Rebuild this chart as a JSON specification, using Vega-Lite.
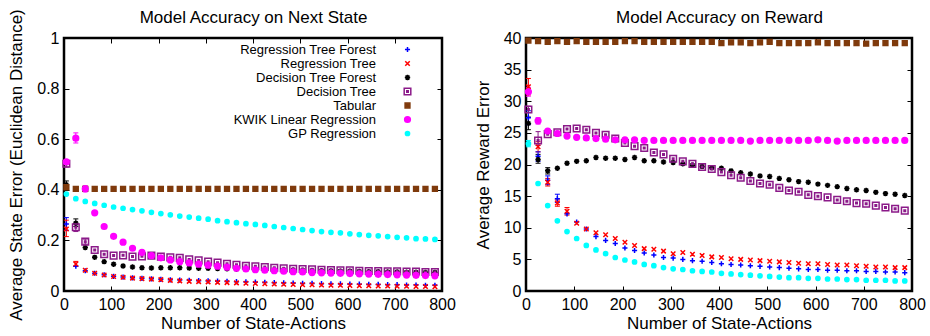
{
"$schema":"https://vega.github.io/schema/vega-lite/v6.json",
"padding":{"left":6,"top":7,"right":5,"bottom":0},
"config":{"font":"Liberation Sans","view":{"stroke":"black","strokeWidth":2.5},
"axis":{"domain":false,"grid":false,"ticks":true,"tickSize":-5,"tickColor":"black","tickWidth":1,"labelPadding":10,"labelFontSize":16,"labelColor":"black","labelFlush":false,"titleFontSize":17,"titleFontWeight":"normal","titleColor":"black"}},
"datasets":{
"state":[
{"s":"Regression Tree Forest","x":5,"y":0.265,"lo":0.24,"hi":0.29},{"s":"Regression Tree Forest","x":25,"y":0.098},{"s":"Regression Tree Forest","x":45,"y":0.080},{"s":"Regression Tree Forest","x":65,"y":0.070},{"s":"Regression Tree Forest","x":85,"y":0.064},{"s":"Regression Tree Forest","x":105,"y":0.058},{"s":"Regression Tree Forest","x":125,"y":0.055},{"s":"Regression Tree Forest","x":145,"y":0.052},{"s":"Regression Tree Forest","x":165,"y":0.050},{"s":"Regression Tree Forest","x":185,"y":0.048},{"s":"Regression Tree Forest","x":205,"y":0.046},{"s":"Regression Tree Forest","x":225,"y":0.044},{"s":"Regression Tree Forest","x":245,"y":0.043},{"s":"Regression Tree Forest","x":265,"y":0.042},{"s":"Regression Tree Forest","x":285,"y":0.041},{"s":"Regression Tree Forest","x":305,"y":0.040},{"s":"Regression Tree Forest","x":325,"y":0.039},{"s":"Regression Tree Forest","x":345,"y":0.038},{"s":"Regression Tree Forest","x":365,"y":0.037},{"s":"Regression Tree Forest","x":385,"y":0.036},{"s":"Regression Tree Forest","x":405,"y":0.035},{"s":"Regression Tree Forest","x":425,"y":0.034},{"s":"Regression Tree Forest","x":445,"y":0.033},{"s":"Regression Tree Forest","x":465,"y":0.032},{"s":"Regression Tree Forest","x":485,"y":0.031},{"s":"Regression Tree Forest","x":505,"y":0.030},{"s":"Regression Tree Forest","x":525,"y":0.030},{"s":"Regression Tree Forest","x":545,"y":0.029},{"s":"Regression Tree Forest","x":565,"y":0.028},{"s":"Regression Tree Forest","x":585,"y":0.028},{"s":"Regression Tree Forest","x":605,"y":0.027},{"s":"Regression Tree Forest","x":625,"y":0.027},{"s":"Regression Tree Forest","x":645,"y":0.026},{"s":"Regression Tree Forest","x":665,"y":0.026},{"s":"Regression Tree Forest","x":685,"y":0.025},{"s":"Regression Tree Forest","x":705,"y":0.025},{"s":"Regression Tree Forest","x":725,"y":0.024},{"s":"Regression Tree Forest","x":745,"y":0.024},{"s":"Regression Tree Forest","x":765,"y":0.023},{"s":"Regression Tree Forest","x":785,"y":0.023},
{"s":"Regression Tree","x":5,"y":0.245,"lo":0.215,"hi":0.28},{"s":"Regression Tree","x":25,"y":0.107,"lo":0.097,"hi":0.117},{"s":"Regression Tree","x":45,"y":0.082},{"s":"Regression Tree","x":65,"y":0.070},{"s":"Regression Tree","x":85,"y":0.063},{"s":"Regression Tree","x":105,"y":0.057},{"s":"Regression Tree","x":125,"y":0.054},{"s":"Regression Tree","x":145,"y":0.051},{"s":"Regression Tree","x":165,"y":0.049},{"s":"Regression Tree","x":185,"y":0.047},{"s":"Regression Tree","x":205,"y":0.045},{"s":"Regression Tree","x":225,"y":0.042},{"s":"Regression Tree","x":245,"y":0.040},{"s":"Regression Tree","x":265,"y":0.038},{"s":"Regression Tree","x":285,"y":0.037},{"s":"Regression Tree","x":305,"y":0.036},{"s":"Regression Tree","x":325,"y":0.034},{"s":"Regression Tree","x":345,"y":0.033},{"s":"Regression Tree","x":365,"y":0.032},{"s":"Regression Tree","x":385,"y":0.031},{"s":"Regression Tree","x":405,"y":0.030},{"s":"Regression Tree","x":425,"y":0.029},{"s":"Regression Tree","x":445,"y":0.028},{"s":"Regression Tree","x":465,"y":0.027},{"s":"Regression Tree","x":485,"y":0.026},{"s":"Regression Tree","x":505,"y":0.025},{"s":"Regression Tree","x":525,"y":0.025},{"s":"Regression Tree","x":545,"y":0.024},{"s":"Regression Tree","x":565,"y":0.023},{"s":"Regression Tree","x":585,"y":0.023},{"s":"Regression Tree","x":605,"y":0.022},{"s":"Regression Tree","x":625,"y":0.021},{"s":"Regression Tree","x":645,"y":0.021},{"s":"Regression Tree","x":665,"y":0.020},{"s":"Regression Tree","x":685,"y":0.020},{"s":"Regression Tree","x":705,"y":0.019},{"s":"Regression Tree","x":725,"y":0.019},{"s":"Regression Tree","x":745,"y":0.018},{"s":"Regression Tree","x":765,"y":0.018},{"s":"Regression Tree","x":785,"y":0.017},
{"s":"Decision Tree Forest","x":5,"y":0.42,"lo":0.405,"hi":0.435},{"s":"Decision Tree Forest","x":25,"y":0.268,"lo":0.255,"hi":0.285},{"s":"Decision Tree Forest","x":45,"y":0.172},{"s":"Decision Tree Forest","x":65,"y":0.133},{"s":"Decision Tree Forest","x":85,"y":0.116},{"s":"Decision Tree Forest","x":105,"y":0.106},{"s":"Decision Tree Forest","x":125,"y":0.099},{"s":"Decision Tree Forest","x":145,"y":0.095},{"s":"Decision Tree Forest","x":165,"y":0.092},{"s":"Decision Tree Forest","x":185,"y":0.091},{"s":"Decision Tree Forest","x":205,"y":0.092},{"s":"Decision Tree Forest","x":225,"y":0.092},{"s":"Decision Tree Forest","x":245,"y":0.092},{"s":"Decision Tree Forest","x":265,"y":0.091},{"s":"Decision Tree Forest","x":285,"y":0.090},{"s":"Decision Tree Forest","x":305,"y":0.090},{"s":"Decision Tree Forest","x":325,"y":0.089},{"s":"Decision Tree Forest","x":345,"y":0.088},{"s":"Decision Tree Forest","x":365,"y":0.087},{"s":"Decision Tree Forest","x":385,"y":0.086},{"s":"Decision Tree Forest","x":405,"y":0.085},{"s":"Decision Tree Forest","x":425,"y":0.084},{"s":"Decision Tree Forest","x":445,"y":0.083},{"s":"Decision Tree Forest","x":465,"y":0.083},{"s":"Decision Tree Forest","x":485,"y":0.082},{"s":"Decision Tree Forest","x":505,"y":0.081},{"s":"Decision Tree Forest","x":525,"y":0.080},{"s":"Decision Tree Forest","x":545,"y":0.080},{"s":"Decision Tree Forest","x":565,"y":0.079},{"s":"Decision Tree Forest","x":585,"y":0.078},{"s":"Decision Tree Forest","x":605,"y":0.078},{"s":"Decision Tree Forest","x":625,"y":0.077},{"s":"Decision Tree Forest","x":645,"y":0.076},{"s":"Decision Tree Forest","x":665,"y":0.076},{"s":"Decision Tree Forest","x":685,"y":0.075},{"s":"Decision Tree Forest","x":705,"y":0.075},{"s":"Decision Tree Forest","x":725,"y":0.074},{"s":"Decision Tree Forest","x":745,"y":0.074},{"s":"Decision Tree Forest","x":765,"y":0.073},{"s":"Decision Tree Forest","x":785,"y":0.073},
{"s":"Decision Tree","x":5,"y":0.503,"lo":0.49,"hi":0.515},{"s":"Decision Tree","x":25,"y":0.252,"lo":0.235,"hi":0.268},{"s":"Decision Tree","x":45,"y":0.195,"lo":0.185,"hi":0.205},{"s":"Decision Tree","x":65,"y":0.162},{"s":"Decision Tree","x":85,"y":0.145},{"s":"Decision Tree","x":105,"y":0.140},{"s":"Decision Tree","x":125,"y":0.141},{"s":"Decision Tree","x":145,"y":0.136},{"s":"Decision Tree","x":165,"y":0.137},{"s":"Decision Tree","x":185,"y":0.140},{"s":"Decision Tree","x":205,"y":0.136},{"s":"Decision Tree","x":225,"y":0.133},{"s":"Decision Tree","x":245,"y":0.131},{"s":"Decision Tree","x":265,"y":0.125},{"s":"Decision Tree","x":285,"y":0.121},{"s":"Decision Tree","x":305,"y":0.116},{"s":"Decision Tree","x":325,"y":0.112},{"s":"Decision Tree","x":345,"y":0.108},{"s":"Decision Tree","x":365,"y":0.104},{"s":"Decision Tree","x":385,"y":0.100},{"s":"Decision Tree","x":405,"y":0.098},{"s":"Decision Tree","x":425,"y":0.095},{"s":"Decision Tree","x":445,"y":0.092},{"s":"Decision Tree","x":465,"y":0.090},{"s":"Decision Tree","x":485,"y":0.088},{"s":"Decision Tree","x":505,"y":0.087},{"s":"Decision Tree","x":525,"y":0.086},{"s":"Decision Tree","x":545,"y":0.084},{"s":"Decision Tree","x":565,"y":0.083},{"s":"Decision Tree","x":585,"y":0.082},{"s":"Decision Tree","x":605,"y":0.082},{"s":"Decision Tree","x":625,"y":0.080},{"s":"Decision Tree","x":645,"y":0.079},{"s":"Decision Tree","x":665,"y":0.079},{"s":"Decision Tree","x":685,"y":0.078},{"s":"Decision Tree","x":705,"y":0.078},{"s":"Decision Tree","x":725,"y":0.077},{"s":"Decision Tree","x":745,"y":0.077},{"s":"Decision Tree","x":765,"y":0.075},{"s":"Decision Tree","x":785,"y":0.075},
{"s":"Tabular","x":5,"y":0.41},{"s":"Tabular","x":25,"y":0.404},{"s":"Tabular","x":45,"y":0.404},{"s":"Tabular","x":65,"y":0.404},{"s":"Tabular","x":85,"y":0.404},{"s":"Tabular","x":105,"y":0.404},{"s":"Tabular","x":125,"y":0.404},{"s":"Tabular","x":145,"y":0.404},{"s":"Tabular","x":165,"y":0.404},{"s":"Tabular","x":185,"y":0.404},{"s":"Tabular","x":205,"y":0.404},{"s":"Tabular","x":225,"y":0.404},{"s":"Tabular","x":245,"y":0.404},{"s":"Tabular","x":265,"y":0.404},{"s":"Tabular","x":285,"y":0.404},{"s":"Tabular","x":305,"y":0.404},{"s":"Tabular","x":325,"y":0.404},{"s":"Tabular","x":345,"y":0.404},{"s":"Tabular","x":365,"y":0.404},{"s":"Tabular","x":385,"y":0.404},{"s":"Tabular","x":405,"y":0.404},{"s":"Tabular","x":425,"y":0.404},{"s":"Tabular","x":445,"y":0.404},{"s":"Tabular","x":465,"y":0.404},{"s":"Tabular","x":485,"y":0.404},{"s":"Tabular","x":505,"y":0.404},{"s":"Tabular","x":525,"y":0.404},{"s":"Tabular","x":545,"y":0.404},{"s":"Tabular","x":565,"y":0.404},{"s":"Tabular","x":585,"y":0.404},{"s":"Tabular","x":605,"y":0.404},{"s":"Tabular","x":625,"y":0.404},{"s":"Tabular","x":645,"y":0.404},{"s":"Tabular","x":665,"y":0.404},{"s":"Tabular","x":685,"y":0.404},{"s":"Tabular","x":705,"y":0.404},{"s":"Tabular","x":725,"y":0.404},{"s":"Tabular","x":745,"y":0.404},{"s":"Tabular","x":765,"y":0.404},{"s":"Tabular","x":785,"y":0.404},
{"s":"KWIK Linear Regression","x":5,"y":0.51},{"s":"KWIK Linear Regression","x":25,"y":0.604,"lo":0.585,"hi":0.625},{"s":"KWIK Linear Regression","x":45,"y":0.404,"lo":0.392,"hi":0.416},{"s":"KWIK Linear Regression","x":65,"y":0.309},{"s":"KWIK Linear Regression","x":85,"y":0.255},{"s":"KWIK Linear Regression","x":105,"y":0.216},{"s":"KWIK Linear Regression","x":125,"y":0.193},{"s":"KWIK Linear Regression","x":145,"y":0.169},{"s":"KWIK Linear Regression","x":165,"y":0.153},{"s":"KWIK Linear Regression","x":185,"y":0.140},{"s":"KWIK Linear Regression","x":205,"y":0.131},{"s":"KWIK Linear Regression","x":225,"y":0.123},{"s":"KWIK Linear Regression","x":245,"y":0.116},{"s":"KWIK Linear Regression","x":265,"y":0.111},{"s":"KWIK Linear Regression","x":285,"y":0.106},{"s":"KWIK Linear Regression","x":305,"y":0.102},{"s":"KWIK Linear Regression","x":325,"y":0.098},{"s":"KWIK Linear Regression","x":345,"y":0.094},{"s":"KWIK Linear Regression","x":365,"y":0.090},{"s":"KWIK Linear Regression","x":385,"y":0.087},{"s":"KWIK Linear Regression","x":405,"y":0.084},{"s":"KWIK Linear Regression","x":425,"y":0.082},{"s":"KWIK Linear Regression","x":445,"y":0.080},{"s":"KWIK Linear Regression","x":465,"y":0.078},{"s":"KWIK Linear Regression","x":485,"y":0.076},{"s":"KWIK Linear Regression","x":505,"y":0.075},{"s":"KWIK Linear Regression","x":525,"y":0.073},{"s":"KWIK Linear Regression","x":545,"y":0.072},{"s":"KWIK Linear Regression","x":565,"y":0.071},{"s":"KWIK Linear Regression","x":585,"y":0.070},{"s":"KWIK Linear Regression","x":605,"y":0.069},{"s":"KWIK Linear Regression","x":625,"y":0.068},{"s":"KWIK Linear Regression","x":645,"y":0.067},{"s":"KWIK Linear Regression","x":665,"y":0.066},{"s":"KWIK Linear Regression","x":685,"y":0.065},{"s":"KWIK Linear Regression","x":705,"y":0.064},{"s":"KWIK Linear Regression","x":725,"y":0.063},{"s":"KWIK Linear Regression","x":745,"y":0.062},{"s":"KWIK Linear Regression","x":765,"y":0.061},{"s":"KWIK Linear Regression","x":785,"y":0.060},
{"s":"GP Regression","x":5,"y":0.383},{"s":"GP Regression","x":25,"y":0.365},{"s":"GP Regression","x":45,"y":0.354},{"s":"GP Regression","x":65,"y":0.346},{"s":"GP Regression","x":85,"y":0.339},{"s":"GP Regression","x":105,"y":0.332},{"s":"GP Regression","x":125,"y":0.327},{"s":"GP Regression","x":145,"y":0.322},{"s":"GP Regression","x":165,"y":0.317},{"s":"GP Regression","x":185,"y":0.311},{"s":"GP Regression","x":205,"y":0.306},{"s":"GP Regression","x":225,"y":0.301},{"s":"GP Regression","x":245,"y":0.296},{"s":"GP Regression","x":265,"y":0.292},{"s":"GP Regression","x":285,"y":0.288},{"s":"GP Regression","x":305,"y":0.284},{"s":"GP Regression","x":325,"y":0.278},{"s":"GP Regression","x":345,"y":0.274},{"s":"GP Regression","x":365,"y":0.270},{"s":"GP Regression","x":385,"y":0.266},{"s":"GP Regression","x":405,"y":0.263},{"s":"GP Regression","x":425,"y":0.259},{"s":"GP Regression","x":445,"y":0.255},{"s":"GP Regression","x":465,"y":0.251},{"s":"GP Regression","x":485,"y":0.247},{"s":"GP Regression","x":505,"y":0.243},{"s":"GP Regression","x":525,"y":0.239},{"s":"GP Regression","x":545,"y":0.235},{"s":"GP Regression","x":565,"y":0.232},{"s":"GP Regression","x":585,"y":0.230},{"s":"GP Regression","x":605,"y":0.226},{"s":"GP Regression","x":625,"y":0.223},{"s":"GP Regression","x":645,"y":0.220},{"s":"GP Regression","x":665,"y":0.218},{"s":"GP Regression","x":685,"y":0.215},{"s":"GP Regression","x":705,"y":0.212},{"s":"GP Regression","x":725,"y":0.210},{"s":"GP Regression","x":745,"y":0.207},{"s":"GP Regression","x":765,"y":0.206},{"s":"GP Regression","x":785,"y":0.204}
],
"reward":[
{"s":"Regression Tree Forest","x":5,"y":27.4,"lo":26.3,"hi":28.5},{"s":"Regression Tree Forest","x":25,"y":21.3,"lo":20.5,"hi":22.0},{"s":"Regression Tree Forest","x":45,"y":17.5,"lo":16.8,"hi":18.2},{"s":"Regression Tree Forest","x":65,"y":14.6,"lo":14.0,"hi":15.3},{"s":"Regression Tree Forest","x":85,"y":12.2},{"s":"Regression Tree Forest","x":105,"y":10.9},{"s":"Regression Tree Forest","x":125,"y":9.8},{"s":"Regression Tree Forest","x":145,"y":8.6},{"s":"Regression Tree Forest","x":165,"y":8.0},{"s":"Regression Tree Forest","x":185,"y":7.5},{"s":"Regression Tree Forest","x":205,"y":6.8},{"s":"Regression Tree Forest","x":225,"y":6.4},{"s":"Regression Tree Forest","x":245,"y":6.0},{"s":"Regression Tree Forest","x":265,"y":5.7},{"s":"Regression Tree Forest","x":285,"y":5.3},{"s":"Regression Tree Forest","x":305,"y":5.2},{"s":"Regression Tree Forest","x":325,"y":5.0},{"s":"Regression Tree Forest","x":345,"y":4.8},{"s":"Regression Tree Forest","x":365,"y":4.7},{"s":"Regression Tree Forest","x":385,"y":4.5},{"s":"Regression Tree Forest","x":405,"y":4.3},{"s":"Regression Tree Forest","x":425,"y":4.2},{"s":"Regression Tree Forest","x":445,"y":4.1},{"s":"Regression Tree Forest","x":465,"y":4.0},{"s":"Regression Tree Forest","x":485,"y":3.9},{"s":"Regression Tree Forest","x":505,"y":3.8},{"s":"Regression Tree Forest","x":525,"y":3.7},{"s":"Regression Tree Forest","x":545,"y":3.6},{"s":"Regression Tree Forest","x":565,"y":3.5},{"s":"Regression Tree Forest","x":585,"y":3.4},{"s":"Regression Tree Forest","x":605,"y":3.4},{"s":"Regression Tree Forest","x":625,"y":3.3},{"s":"Regression Tree Forest","x":645,"y":3.3},{"s":"Regression Tree Forest","x":665,"y":3.2},{"s":"Regression Tree Forest","x":685,"y":3.2},{"s":"Regression Tree Forest","x":705,"y":3.1},{"s":"Regression Tree Forest","x":725,"y":3.1},{"s":"Regression Tree Forest","x":745,"y":3.0},{"s":"Regression Tree Forest","x":765,"y":3.0},{"s":"Regression Tree Forest","x":785,"y":2.9},
{"s":"Regression Tree","x":5,"y":32.3,"lo":31.0,"hi":33.6},{"s":"Regression Tree","x":25,"y":22.8,"lo":22.0,"hi":23.6},{"s":"Regression Tree","x":45,"y":17.2,"lo":16.6,"hi":17.8},{"s":"Regression Tree","x":65,"y":13.9,"lo":13.4,"hi":14.4},{"s":"Regression Tree","x":85,"y":12.6,"lo":12.0,"hi":13.2},{"s":"Regression Tree","x":105,"y":10.7},{"s":"Regression Tree","x":125,"y":9.8},{"s":"Regression Tree","x":145,"y":9.2},{"s":"Regression Tree","x":165,"y":8.9},{"s":"Regression Tree","x":185,"y":8.3},{"s":"Regression Tree","x":205,"y":7.7},{"s":"Regression Tree","x":225,"y":7.2},{"s":"Regression Tree","x":245,"y":6.7},{"s":"Regression Tree","x":265,"y":6.6},{"s":"Regression Tree","x":285,"y":6.3},{"s":"Regression Tree","x":305,"y":5.9},{"s":"Regression Tree","x":325,"y":6.1},{"s":"Regression Tree","x":345,"y":5.8},{"s":"Regression Tree","x":365,"y":5.6},{"s":"Regression Tree","x":385,"y":5.4},{"s":"Regression Tree","x":405,"y":5.3},{"s":"Regression Tree","x":425,"y":5.1},{"s":"Regression Tree","x":445,"y":5.0},{"s":"Regression Tree","x":465,"y":4.9},{"s":"Regression Tree","x":485,"y":4.8},{"s":"Regression Tree","x":505,"y":4.7},{"s":"Regression Tree","x":525,"y":4.6},{"s":"Regression Tree","x":545,"y":4.5},{"s":"Regression Tree","x":565,"y":4.4},{"s":"Regression Tree","x":585,"y":4.3},{"s":"Regression Tree","x":605,"y":4.3},{"s":"Regression Tree","x":625,"y":4.2},{"s":"Regression Tree","x":645,"y":4.1},{"s":"Regression Tree","x":665,"y":4.1},{"s":"Regression Tree","x":685,"y":4.0},{"s":"Regression Tree","x":705,"y":3.9},{"s":"Regression Tree","x":725,"y":3.8},{"s":"Regression Tree","x":745,"y":3.8},{"s":"Regression Tree","x":765,"y":3.7},{"s":"Regression Tree","x":785,"y":3.7},
{"s":"Decision Tree Forest","x":5,"y":26.5,"lo":25.5,"hi":27.5},{"s":"Decision Tree Forest","x":25,"y":20.8,"lo":20.2,"hi":21.6},{"s":"Decision Tree Forest","x":45,"y":19.0,"lo":18.5,"hi":19.5},{"s":"Decision Tree Forest","x":65,"y":19.4},{"s":"Decision Tree Forest","x":85,"y":20.2},{"s":"Decision Tree Forest","x":105,"y":20.5},{"s":"Decision Tree Forest","x":125,"y":20.6},{"s":"Decision Tree Forest","x":145,"y":21.1},{"s":"Decision Tree Forest","x":165,"y":21.0},{"s":"Decision Tree Forest","x":185,"y":21.0},{"s":"Decision Tree Forest","x":205,"y":20.8},{"s":"Decision Tree Forest","x":225,"y":21.1},{"s":"Decision Tree Forest","x":245,"y":20.6},{"s":"Decision Tree Forest","x":265,"y":20.6},{"s":"Decision Tree Forest","x":285,"y":20.4},{"s":"Decision Tree Forest","x":305,"y":20.3},{"s":"Decision Tree Forest","x":325,"y":20.1},{"s":"Decision Tree Forest","x":345,"y":19.9},{"s":"Decision Tree Forest","x":365,"y":19.7},{"s":"Decision Tree Forest","x":385,"y":19.5},{"s":"Decision Tree Forest","x":405,"y":19.4},{"s":"Decision Tree Forest","x":425,"y":19.0},{"s":"Decision Tree Forest","x":445,"y":18.7},{"s":"Decision Tree Forest","x":465,"y":18.5},{"s":"Decision Tree Forest","x":485,"y":18.2},{"s":"Decision Tree Forest","x":505,"y":18.1},{"s":"Decision Tree Forest","x":525,"y":17.8},{"s":"Decision Tree Forest","x":545,"y":17.6},{"s":"Decision Tree Forest","x":565,"y":17.3},{"s":"Decision Tree Forest","x":585,"y":17.2},{"s":"Decision Tree Forest","x":605,"y":16.9},{"s":"Decision Tree Forest","x":625,"y":16.7},{"s":"Decision Tree Forest","x":645,"y":16.5},{"s":"Decision Tree Forest","x":665,"y":16.2},{"s":"Decision Tree Forest","x":685,"y":16.0},{"s":"Decision Tree Forest","x":705,"y":15.9},{"s":"Decision Tree Forest","x":725,"y":15.6},{"s":"Decision Tree Forest","x":745,"y":15.4},{"s":"Decision Tree Forest","x":765,"y":15.3},{"s":"Decision Tree Forest","x":785,"y":15.1},
{"s":"Decision Tree","x":5,"y":28.7,"lo":28.2,"hi":29.2},{"s":"Decision Tree","x":25,"y":23.8,"lo":23.0,"hi":25.2},{"s":"Decision Tree","x":45,"y":24.8},{"s":"Decision Tree","x":65,"y":25.1},{"s":"Decision Tree","x":85,"y":25.6},{"s":"Decision Tree","x":105,"y":25.7},{"s":"Decision Tree","x":125,"y":25.5},{"s":"Decision Tree","x":145,"y":25.0},{"s":"Decision Tree","x":165,"y":24.7},{"s":"Decision Tree","x":185,"y":24.1},{"s":"Decision Tree","x":205,"y":23.4},{"s":"Decision Tree","x":225,"y":22.9},{"s":"Decision Tree","x":245,"y":22.6},{"s":"Decision Tree","x":265,"y":21.9},{"s":"Decision Tree","x":285,"y":21.6},{"s":"Decision Tree","x":305,"y":20.9},{"s":"Decision Tree","x":325,"y":20.5},{"s":"Decision Tree","x":345,"y":20.1},{"s":"Decision Tree","x":365,"y":19.6},{"s":"Decision Tree","x":385,"y":19.3},{"s":"Decision Tree","x":405,"y":18.8},{"s":"Decision Tree","x":425,"y":18.3},{"s":"Decision Tree","x":445,"y":17.9},{"s":"Decision Tree","x":465,"y":17.4},{"s":"Decision Tree","x":485,"y":17.0},{"s":"Decision Tree","x":505,"y":16.8},{"s":"Decision Tree","x":525,"y":16.3},{"s":"Decision Tree","x":545,"y":15.9},{"s":"Decision Tree","x":565,"y":15.7},{"s":"Decision Tree","x":585,"y":15.2},{"s":"Decision Tree","x":605,"y":15.0},{"s":"Decision Tree","x":625,"y":14.8},{"s":"Decision Tree","x":645,"y":14.4},{"s":"Decision Tree","x":665,"y":14.2},{"s":"Decision Tree","x":685,"y":13.9},{"s":"Decision Tree","x":705,"y":13.8},{"s":"Decision Tree","x":725,"y":13.5},{"s":"Decision Tree","x":745,"y":13.2},{"s":"Decision Tree","x":765,"y":13.0},{"s":"Decision Tree","x":785,"y":12.7},
{"s":"Tabular","x":5,"y":39.6},{"s":"Tabular","x":25,"y":39.5},{"s":"Tabular","x":45,"y":39.4},{"s":"Tabular","x":65,"y":39.5},{"s":"Tabular","x":85,"y":39.4},{"s":"Tabular","x":105,"y":39.5},{"s":"Tabular","x":125,"y":39.4},{"s":"Tabular","x":145,"y":39.4},{"s":"Tabular","x":165,"y":39.4},{"s":"Tabular","x":185,"y":39.4},{"s":"Tabular","x":205,"y":39.5},{"s":"Tabular","x":225,"y":39.5},{"s":"Tabular","x":245,"y":39.4},{"s":"Tabular","x":265,"y":39.4},{"s":"Tabular","x":285,"y":39.4},{"s":"Tabular","x":305,"y":39.4},{"s":"Tabular","x":325,"y":39.4},{"s":"Tabular","x":345,"y":39.4},{"s":"Tabular","x":365,"y":39.4},{"s":"Tabular","x":385,"y":39.4},{"s":"Tabular","x":405,"y":39.2},{"s":"Tabular","x":425,"y":39.3},{"s":"Tabular","x":445,"y":39.3},{"s":"Tabular","x":465,"y":39.2},{"s":"Tabular","x":485,"y":39.3},{"s":"Tabular","x":505,"y":39.4},{"s":"Tabular","x":525,"y":39.2},{"s":"Tabular","x":545,"y":39.2},{"s":"Tabular","x":565,"y":39.2},{"s":"Tabular","x":585,"y":39.2},{"s":"Tabular","x":605,"y":39.3},{"s":"Tabular","x":625,"y":39.2},{"s":"Tabular","x":645,"y":39.2},{"s":"Tabular","x":665,"y":39.2},{"s":"Tabular","x":685,"y":39.2},{"s":"Tabular","x":705,"y":39.1},{"s":"Tabular","x":725,"y":39.2},{"s":"Tabular","x":745,"y":39.2},{"s":"Tabular","x":765,"y":39.2},{"s":"Tabular","x":785,"y":39.2},
{"s":"KWIK Linear Regression","x":5,"y":31.5,"lo":30.8,"hi":32.2},{"s":"KWIK Linear Regression","x":25,"y":26.9,"lo":26.4,"hi":27.4},{"s":"KWIK Linear Regression","x":45,"y":25.3},{"s":"KWIK Linear Regression","x":65,"y":24.9},{"s":"KWIK Linear Regression","x":85,"y":24.5},{"s":"KWIK Linear Regression","x":105,"y":24.3},{"s":"KWIK Linear Regression","x":125,"y":24.2},{"s":"KWIK Linear Regression","x":145,"y":24.1},{"s":"KWIK Linear Regression","x":165,"y":24.0},{"s":"KWIK Linear Regression","x":185,"y":23.9},{"s":"KWIK Linear Regression","x":205,"y":23.9},{"s":"KWIK Linear Regression","x":225,"y":23.9},{"s":"KWIK Linear Regression","x":245,"y":23.8},{"s":"KWIK Linear Regression","x":265,"y":23.8},{"s":"KWIK Linear Regression","x":285,"y":23.8},{"s":"KWIK Linear Regression","x":305,"y":23.8},{"s":"KWIK Linear Regression","x":325,"y":23.8},{"s":"KWIK Linear Regression","x":345,"y":23.8},{"s":"KWIK Linear Regression","x":365,"y":23.8},{"s":"KWIK Linear Regression","x":385,"y":23.8},{"s":"KWIK Linear Regression","x":405,"y":23.8},{"s":"KWIK Linear Regression","x":425,"y":23.8},{"s":"KWIK Linear Regression","x":445,"y":23.8},{"s":"KWIK Linear Regression","x":465,"y":23.7},{"s":"KWIK Linear Regression","x":485,"y":23.8},{"s":"KWIK Linear Regression","x":505,"y":23.8},{"s":"KWIK Linear Regression","x":525,"y":23.8},{"s":"KWIK Linear Regression","x":545,"y":23.8},{"s":"KWIK Linear Regression","x":565,"y":23.8},{"s":"KWIK Linear Regression","x":585,"y":23.8},{"s":"KWIK Linear Regression","x":605,"y":23.9},{"s":"KWIK Linear Regression","x":625,"y":23.8},{"s":"KWIK Linear Regression","x":645,"y":23.7},{"s":"KWIK Linear Regression","x":665,"y":23.8},{"s":"KWIK Linear Regression","x":685,"y":23.8},{"s":"KWIK Linear Regression","x":705,"y":23.8},{"s":"KWIK Linear Regression","x":725,"y":23.8},{"s":"KWIK Linear Regression","x":745,"y":23.8},{"s":"KWIK Linear Regression","x":765,"y":23.8},{"s":"KWIK Linear Regression","x":785,"y":23.8},
{"s":"GP Regression","x":5,"y":23.3,"lo":22.8,"hi":23.8},{"s":"GP Regression","x":25,"y":17.0},{"s":"GP Regression","x":45,"y":13.5},{"s":"GP Regression","x":65,"y":11.1},{"s":"GP Regression","x":85,"y":9.4},{"s":"GP Regression","x":105,"y":8.3},{"s":"GP Regression","x":125,"y":7.2},{"s":"GP Regression","x":145,"y":6.5},{"s":"GP Regression","x":165,"y":5.9},{"s":"GP Regression","x":185,"y":5.3},{"s":"GP Regression","x":205,"y":4.9},{"s":"GP Regression","x":225,"y":4.6},{"s":"GP Regression","x":245,"y":4.2},{"s":"GP Regression","x":265,"y":4.0},{"s":"GP Regression","x":285,"y":3.7},{"s":"GP Regression","x":305,"y":3.5},{"s":"GP Regression","x":325,"y":3.4},{"s":"GP Regression","x":345,"y":3.2},{"s":"GP Regression","x":365,"y":3.1},{"s":"GP Regression","x":385,"y":3.0},{"s":"GP Regression","x":405,"y":2.8},{"s":"GP Regression","x":425,"y":2.7},{"s":"GP Regression","x":445,"y":2.6},{"s":"GP Regression","x":465,"y":2.5},{"s":"GP Regression","x":485,"y":2.4},{"s":"GP Regression","x":505,"y":2.3},{"s":"GP Regression","x":525,"y":2.2},{"s":"GP Regression","x":545,"y":2.1},{"s":"GP Regression","x":565,"y":2.1},{"s":"GP Regression","x":585,"y":2.0},{"s":"GP Regression","x":605,"y":2.0},{"s":"GP Regression","x":625,"y":1.9},{"s":"GP Regression","x":645,"y":1.9},{"s":"GP Regression","x":665,"y":1.8},{"s":"GP Regression","x":685,"y":1.8},{"s":"GP Regression","x":705,"y":1.7},{"s":"GP Regression","x":725,"y":1.7},{"s":"GP Regression","x":745,"y":1.7},{"s":"GP Regression","x":765,"y":1.6},{"s":"GP Regression","x":785,"y":1.6}
]},
"spacing":84,
"bounds":"flush",
"hconcat":[
{"width":378,"height":253,"data":{"name":"state"},
"resolve":{"axis":{"x":"independent","y":"independent"}},
"layer":[
{"transform":[{"filter":"isValid(datum.lo)"}],
"mark":{"type":"rule","strokeWidth":1},
"encoding":{"x":{"field":"x","type":"quantitative","scale":{"domain":[0,800],"nice":false},"axis":null},
"y":{"field":"lo","type":"quantitative","scale":{"domain":[0,1],"nice":false},"axis":null},
"y2":{"field":"hi"},
"stroke":{"field":"s","type":"nominal","scale":{"domain":["Regression Tree Forest","Regression Tree","Decision Tree Forest","Decision Tree","Tabular","KWIK Linear Regression","GP Regression"],"range":["#0000ff","#ff0000","#000000","#8b1a89","#7f3a0c","#ff00ff","#00ffff"]}}}},
{"transform":[{"filter":"isValid(datum.lo)"}],
"mark":{"type":"point","shape":"M-1,0H1","size":25,"strokeWidth":1,"filled":false,"opacity":1},
"encoding":{"x":{"field":"x","type":"quantitative","scale":{"domain":[0,800],"nice":false},"axis":null},
"y":{"field":"lo","type":"quantitative","scale":{"domain":[0,1],"nice":false},"axis":null},
"stroke":{"field":"s","type":"nominal","scale":{"domain":["Regression Tree Forest","Regression Tree","Decision Tree Forest","Decision Tree","Tabular","KWIK Linear Regression","GP Regression"],"range":["#0000ff","#ff0000","#000000","#8b1a89","#7f3a0c","#ff00ff","#00ffff"]}}}},
{"transform":[{"filter":"isValid(datum.hi)"}],
"mark":{"type":"point","shape":"M-1,0H1","size":25,"strokeWidth":1,"filled":false,"opacity":1},
"encoding":{"x":{"field":"x","type":"quantitative","scale":{"domain":[0,800],"nice":false},"axis":null},
"y":{"field":"hi","type":"quantitative","scale":{"domain":[0,1],"nice":false},"axis":null},
"stroke":{"field":"s","type":"nominal","scale":{"domain":["Regression Tree Forest","Regression Tree","Decision Tree Forest","Decision Tree","Tabular","KWIK Linear Regression","GP Regression"],"range":["#0000ff","#ff0000","#000000","#8b1a89","#7f3a0c","#ff00ff","#00ffff"]}}}},
{"mark":{"type":"point","filled":true,"size":36,"strokeWidth":1.5,"opacity":1},
"encoding":{
"x":{"field":"x","type":"quantitative","scale":{"domain":[0,800],"nice":false},"axis":{"orient":"bottom","values":[0,100,200,300,400,500,600,700,800],"title":"Number of State-Actions","titlePadding":3}},
"y":{"field":"y","type":"quantitative","scale":{"domain":[0,1],"nice":false},"axis":{"orient":"left","values":[0,0.2,0.4,0.6,0.8,1],"format":".1~f","title":"Average State Error (Euclidean Distance)","titlePadding":11}},
"fill":{"field":"s","type":"nominal","scale":{"domain":["Regression Tree Forest","Regression Tree","Decision Tree Forest","Decision Tree","Tabular","KWIK Linear Regression","GP Regression"],"range":["#0000ff","#ff0000","#000000","#8b1a89","#7f3a0c","#ff00ff","#00ffff"]},
"legend":{"orient":"none","legendX":337,"legendY":5,"title":null,"padding":0,"labelFontSize":13,"labelAlign":"right","labelOffset":-38,"labelLimit":400,"symbolSize":36,"symbolStrokeWidth":1.5,"rowPadding":-0.7,"labelColor":"black","symbolOpacity":1}},
"stroke":{"field":"s","type":"nominal","scale":{"domain":["Regression Tree Forest","Regression Tree","Decision Tree Forest","Decision Tree","Tabular","KWIK Linear Regression","GP Regression"],"range":["#0000ff","#ff0000","#000000","#8b1a89","#7f3a0c","#ff00ff","#00ffff"]}},
"shape":{"field":"s","type":"nominal","scale":{"domain":["Regression Tree Forest","Regression Tree","Decision Tree Forest","Decision Tree","Tabular","KWIK Linear Regression","GP Regression"],"range":["M-0.85,0H0.85M0,-0.85V0.85","M-0.75,-0.75L0.75,0.75M-0.75,0.75L0.75,-0.75","M-0.9,0H0.9M0,-0.9V0.9M-0.65,-0.65L0.65,0.65M-0.65,0.65L0.65,-0.65","M-1.1,-1.1H1.1V1.1H-1.1ZM-1.1,-1.1V1.1H1.1V-1.1ZM-0.25,-0.25H0.25V0.25H-0.25Z","M-0.8,-0.8H0.8V0.8H-0.8Z","M-0.95,0A0.95,0.95,0,1,0,0.95,0A0.95,0.95,0,1,0,-0.95,0Z","M-0.7,0A0.7,0.7,0,1,0,0.7,0A0.7,0.7,0,1,0,-0.7,0Z"]}}}},
{"mark":{"type":"point","opacity":0},
"encoding":{"x":{"field":"x","type":"quantitative","scale":{"domain":[0,800],"nice":false},"axis":{"orient":"top","values":[0,100,200,300,400,500,600,700,800],"labels":false,"title":"Model Accuracy on Next State","titlePadding":11}},
"y":{"field":"y","type":"quantitative","scale":{"domain":[0,1],"nice":false},"axis":{"orient":"right","values":[0,0.2,0.4,0.6,0.8,1],"labels":false,"title":null}}}}
]},
{"width":386,"height":253,"data":{"name":"reward"},
"resolve":{"axis":{"x":"independent","y":"independent"}},
"layer":[
{"transform":[{"filter":"isValid(datum.lo)"}],
"mark":{"type":"rule","strokeWidth":1},
"encoding":{"x":{"field":"x","type":"quantitative","scale":{"domain":[0,800],"nice":false},"axis":null},
"y":{"field":"lo","type":"quantitative","scale":{"domain":[0,40],"nice":false},"axis":null},
"y2":{"field":"hi"},
"stroke":{"field":"s","type":"nominal","scale":{"domain":["Regression Tree Forest","Regression Tree","Decision Tree Forest","Decision Tree","Tabular","KWIK Linear Regression","GP Regression"],"range":["#0000ff","#ff0000","#000000","#8b1a89","#7f3a0c","#ff00ff","#00ffff"]}}}},
{"transform":[{"filter":"isValid(datum.lo)"}],
"mark":{"type":"point","shape":"M-1,0H1","size":25,"strokeWidth":1,"filled":false,"opacity":1},
"encoding":{"x":{"field":"x","type":"quantitative","scale":{"domain":[0,800],"nice":false},"axis":null},
"y":{"field":"lo","type":"quantitative","scale":{"domain":[0,40],"nice":false},"axis":null},
"stroke":{"field":"s","type":"nominal","scale":{"domain":["Regression Tree Forest","Regression Tree","Decision Tree Forest","Decision Tree","Tabular","KWIK Linear Regression","GP Regression"],"range":["#0000ff","#ff0000","#000000","#8b1a89","#7f3a0c","#ff00ff","#00ffff"]}}}},
{"transform":[{"filter":"isValid(datum.hi)"}],
"mark":{"type":"point","shape":"M-1,0H1","size":25,"strokeWidth":1,"filled":false,"opacity":1},
"encoding":{"x":{"field":"x","type":"quantitative","scale":{"domain":[0,800],"nice":false},"axis":null},
"y":{"field":"hi","type":"quantitative","scale":{"domain":[0,40],"nice":false},"axis":null},
"stroke":{"field":"s","type":"nominal","scale":{"domain":["Regression Tree Forest","Regression Tree","Decision Tree Forest","Decision Tree","Tabular","KWIK Linear Regression","GP Regression"],"range":["#0000ff","#ff0000","#000000","#8b1a89","#7f3a0c","#ff00ff","#00ffff"]}}}},
{"mark":{"type":"point","filled":true,"size":36,"strokeWidth":1.5,"opacity":1},
"encoding":{
"x":{"field":"x","type":"quantitative","scale":{"domain":[0,800],"nice":false},"axis":{"orient":"bottom","values":[0,100,200,300,400,500,600,700,800],"title":"Number of State-Actions","titlePadding":3}},
"y":{"field":"y","type":"quantitative","scale":{"domain":[0,40],"nice":false},"axis":{"orient":"left","values":[0,5,10,15,20,25,30,35,40],"title":"Average Reward Error","titlePadding":11}},
"fill":{"field":"s","type":"nominal","scale":{"domain":["Regression Tree Forest","Regression Tree","Decision Tree Forest","Decision Tree","Tabular","KWIK Linear Regression","GP Regression"],"range":["#0000ff","#ff0000","#000000","#8b1a89","#7f3a0c","#ff00ff","#00ffff"]}},
"stroke":{"field":"s","type":"nominal","scale":{"domain":["Regression Tree Forest","Regression Tree","Decision Tree Forest","Decision Tree","Tabular","KWIK Linear Regression","GP Regression"],"range":["#0000ff","#ff0000","#000000","#8b1a89","#7f3a0c","#ff00ff","#00ffff"]}},
"shape":{"field":"s","type":"nominal","scale":{"domain":["Regression Tree Forest","Regression Tree","Decision Tree Forest","Decision Tree","Tabular","KWIK Linear Regression","GP Regression"],"range":["M-0.85,0H0.85M0,-0.85V0.85","M-0.75,-0.75L0.75,0.75M-0.75,0.75L0.75,-0.75","M-0.9,0H0.9M0,-0.9V0.9M-0.65,-0.65L0.65,0.65M-0.65,0.65L0.65,-0.65","M-1.1,-1.1H1.1V1.1H-1.1ZM-1.1,-1.1V1.1H1.1V-1.1ZM-0.25,-0.25H0.25V0.25H-0.25Z","M-0.8,-0.8H0.8V0.8H-0.8Z","M-0.95,0A0.95,0.95,0,1,0,0.95,0A0.95,0.95,0,1,0,-0.95,0Z","M-0.7,0A0.7,0.7,0,1,0,0.7,0A0.7,0.7,0,1,0,-0.7,0Z"]}}}},
{"mark":{"type":"point","opacity":0},
"encoding":{"x":{"field":"x","type":"quantitative","scale":{"domain":[0,800],"nice":false},"axis":{"orient":"top","values":[0,100,200,300,400,500,600,700,800],"labels":false,"title":"Model Accuracy on Reward","titlePadding":11}},
"y":{"field":"y","type":"quantitative","scale":{"domain":[0,40],"nice":false},"axis":{"orient":"right","values":[0,5,10,15,20,25,30,35,40],"labels":false,"title":null}}}}
]}
]}
